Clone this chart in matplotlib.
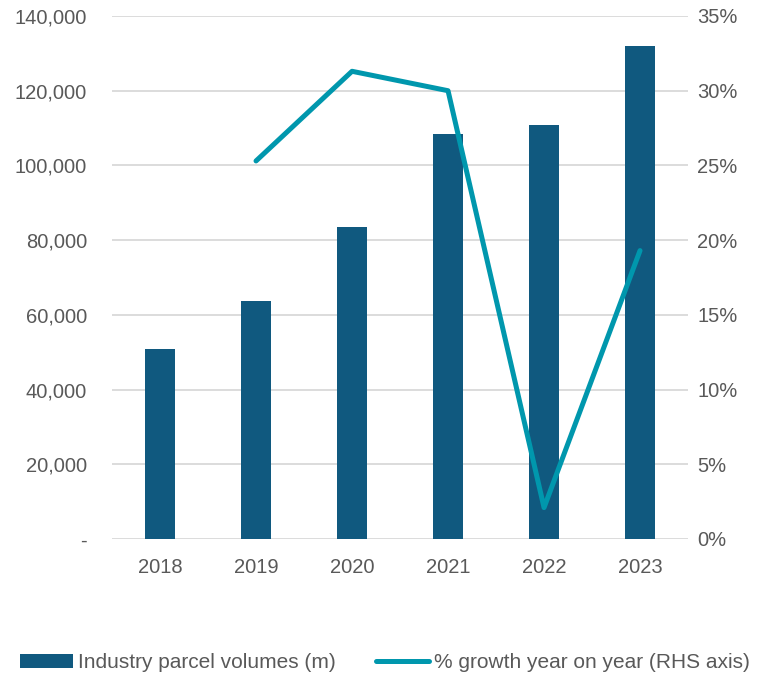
import matplotlib
matplotlib.use('Agg')
import matplotlib.pyplot as plt
import numpy as np
from matplotlib.ticker import FuncFormatter

years = ['2018', '2019', '2020', '2021', '2022', '2023']
volumes = [50900, 63600, 83500, 108400, 110700, 132000]
growth_years = ['2019', '2020', '2021', '2022', '2023']
growth = [25.3, 31.3, 30.0, 2.1, 19.3]

plt.rcParams['font.family'] = ['Liberation Sans', 'DejaVu Sans']
txt = '#595959'
bar_col = '#10597f'
line_col = '#0097ad'

fig = plt.figure(figsize=(7.59, 6.75), dpi=100)
ax = fig.add_axes([0.1476, 0.2015, 0.7589, 0.7748])
x = np.arange(len(years))
ax.bar(x, volumes, width=0.31, color=bar_col, zorder=2, label='Industry parcel volumes (m)')
ax.set_ylim(0, 140000)
ax.set_xlim(-0.5, len(years) - 0.5)
ax.set_yticks(np.arange(0, 140001, 20000))
ax.yaxis.set_major_formatter(FuncFormatter(lambda v, p: '-' if v == 0 else f'{int(v):,}'))
ax.set_xticks(x)
ax.set_xticklabels(years)
ax.grid(axis='y', color='#d9d9d9', linewidth=1.3, zorder=0)
for s in ax.spines.values():
    s.set_visible(False)
ax.tick_params(length=0, labelsize=14.5, colors=txt, pad=14)
ax.tick_params(axis='y', pad=18)

ax2 = ax.twinx()
gx = [years.index(y) for y in growth_years]
ax2.plot(gx, growth, color=line_col, linewidth=3.6, solid_capstyle='round', zorder=3,
         label='% growth year on year (RHS axis)')
ax2.set_ylim(0, 35)
ax2.set_yticks(np.arange(0, 36, 5))
ax2.yaxis.set_major_formatter(FuncFormatter(lambda v, p: f'{int(v)}%'))
for s in ax2.spines.values():
    s.set_visible(False)
ax2.tick_params(length=0, labelsize=14.5, colors=txt, pad=6.5)

h1, l1 = ax.get_legend_handles_labels()
h2, l2 = ax2.get_legend_handles_labels()
fig.legend(h1 + h2, l1 + l2, loc='center', bbox_to_anchor=(0.507, 0.018), ncol=2,
           frameon=False, fontsize=15, labelcolor=txt, handlelength=2.55,
           handletextpad=0.25, columnspacing=1.93, borderpad=0)

fig.savefig('out.png', dpi=100)
